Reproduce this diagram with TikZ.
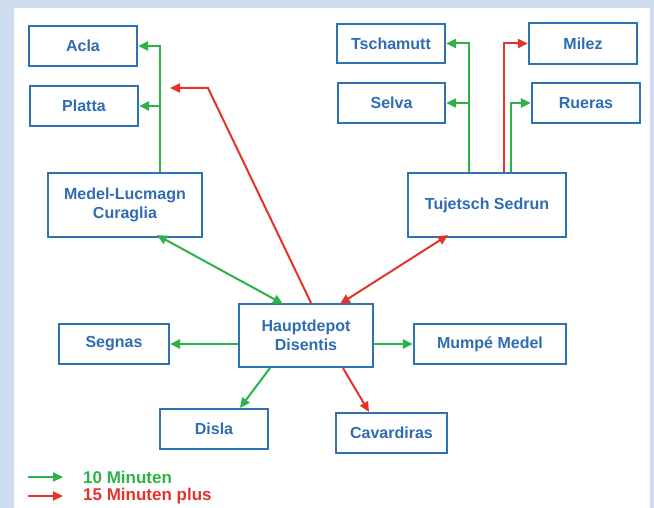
\documentclass[tikz,border=0pt]{standalone}
\usepackage{fontspec}
\setmainfont{Liberation Sans}
\usetikzlibrary{arrows.meta}
\definecolor{bgblue}{HTML}{CFDCEF}
\definecolor{boxblue}{HTML}{2E74B5}
\definecolor{txtblue}{HTML}{2F6CB3}
\definecolor{agreen}{HTML}{2DB24A}
\definecolor{ared}{HTML}{E63329}
\begin{document}
\begin{tikzpicture}[x=1pt,y=-1pt,
  box/.style={draw=boxblue, line width=2.2pt, fill=white, font=\fontsize{16}{19}\selectfont\bfseries, text=txtblue, align=center, inner sep=0pt},
  tip/.style={-{Triangle[length=10pt,width=9pt]}},
  gline/.style={agreen, line width=2pt, tip},
  rline/.style={ared, line width=2pt, tip},
  gdouble/.style={agreen, line width=2pt, {Triangle[length=10pt,width=9pt]}-{Triangle[length=10pt,width=9pt]}},
  rdouble/.style={ared, line width=2pt, {Triangle[length=10pt,width=9pt]}-{Triangle[length=10pt,width=9pt]}},
  legend/.style={font=\fontsize{17}{20}\selectfont\bfseries, anchor=west, inner sep=0pt}]
\useasboundingbox (0,0) rectangle (654,508);
\fill[bgblue] (0,0) rectangle (654,508);
\fill[white] (14,8) rectangle (650,508);

\node[box, minimum width=108, minimum height=40] (acla) at (83,46) {Acla};
\node[box, minimum width=108, minimum height=40] (platta) at (84,106) {Platta};
\node[box, minimum width=154, minimum height=64] (medel) at (125,205) {Medel-Lucmagn\\Curaglia};
\node[box, minimum width=108, minimum height=39] (tscham) at (391,43.5) {Tschamutt};
\node[box, minimum width=107, minimum height=40] (selva) at (391.5,103) {Selva};
\node[box, minimum width=108, minimum height=41] (milez) at (583,43.5) {Milez};
\node[box, minimum width=108, minimum height=40] (rueras) at (586,103) {Rueras};
\node[box, minimum width=158, minimum height=64] (tuj) at (487,205) {Tujetsch Sedrun};
\node[box, minimum width=134, minimum height=63] (haupt) at (306,335.5) {Hauptdepot\\Disentis};
\node[box, minimum width=110, minimum height=40] (segnas) at (114,344) {Segnas};
\node[box, minimum width=152, minimum height=40] (mumpe) at (490,344) {Mumpé Medel};
\node[box, minimum width=108, minimum height=40] (disla) at (214,429) {Disla};
\node[box, minimum width=111, minimum height=40] (cav) at (391.5,433) {Cavardiras};

% Medel branches
\draw[gline] ([xshift=35]medel.north) |- (acla.east);
\draw[gline] ([xshift=35]medel.north) |- (platta.east);
% red long
\coordinate (rbend) at (208,88);
\coordinate (rend) at (170,88);
\draw[rline] ([xshift=5]haupt.north) -- (rbend) -- (rend);
% Tujetsch branches
\draw[gline] ([xshift=-18]tuj.north) |- (tscham.east);
\draw[gline] ([xshift=-18]tuj.north) |- (selva.east);
\draw[rline] ([xshift=17]tuj.north) |- (milez.west);
\draw[gline] ([xshift=24]tuj.north) |- (rueras.west);
% to Hauptdepot
\draw[gdouble] ([xshift=32,yshift=3]medel.south) -- ([xshift=-23,yshift=-1]haupt.north);
\draw[rdouble] ([xshift=-39,yshift=3]tuj.south) -- ([xshift=34,yshift=-1]haupt.north);
% from Hauptdepot
\draw[gline] (haupt.west |- segnas.east) -- (segnas.east);
\draw[gline] (haupt.east |- mumpe.west) -- (mumpe.west);
\draw[gline] ([xshift=-36]haupt.south) -- ([xshift=26]disla.north);
\draw[rline] ([xshift=37]haupt.south) -- ([xshift=-22.5]cav.north);

% legend
\coordinate (lg1) at (28,477);
\coordinate (lg2) at (63,477);
\coordinate (lr1) at (28,496);
\coordinate (lr2) at (63,496);
\draw[gline] (lg1) -- (lg2);
\draw[rline] (lr1) -- (lr2);
\node[legend, text=agreen] (lgt) at (83,477) {10 Minuten};
\node[legend, text=ared] (lrt) at (83,496) {15 Minuten plus};
\end{tikzpicture}
\end{document}
